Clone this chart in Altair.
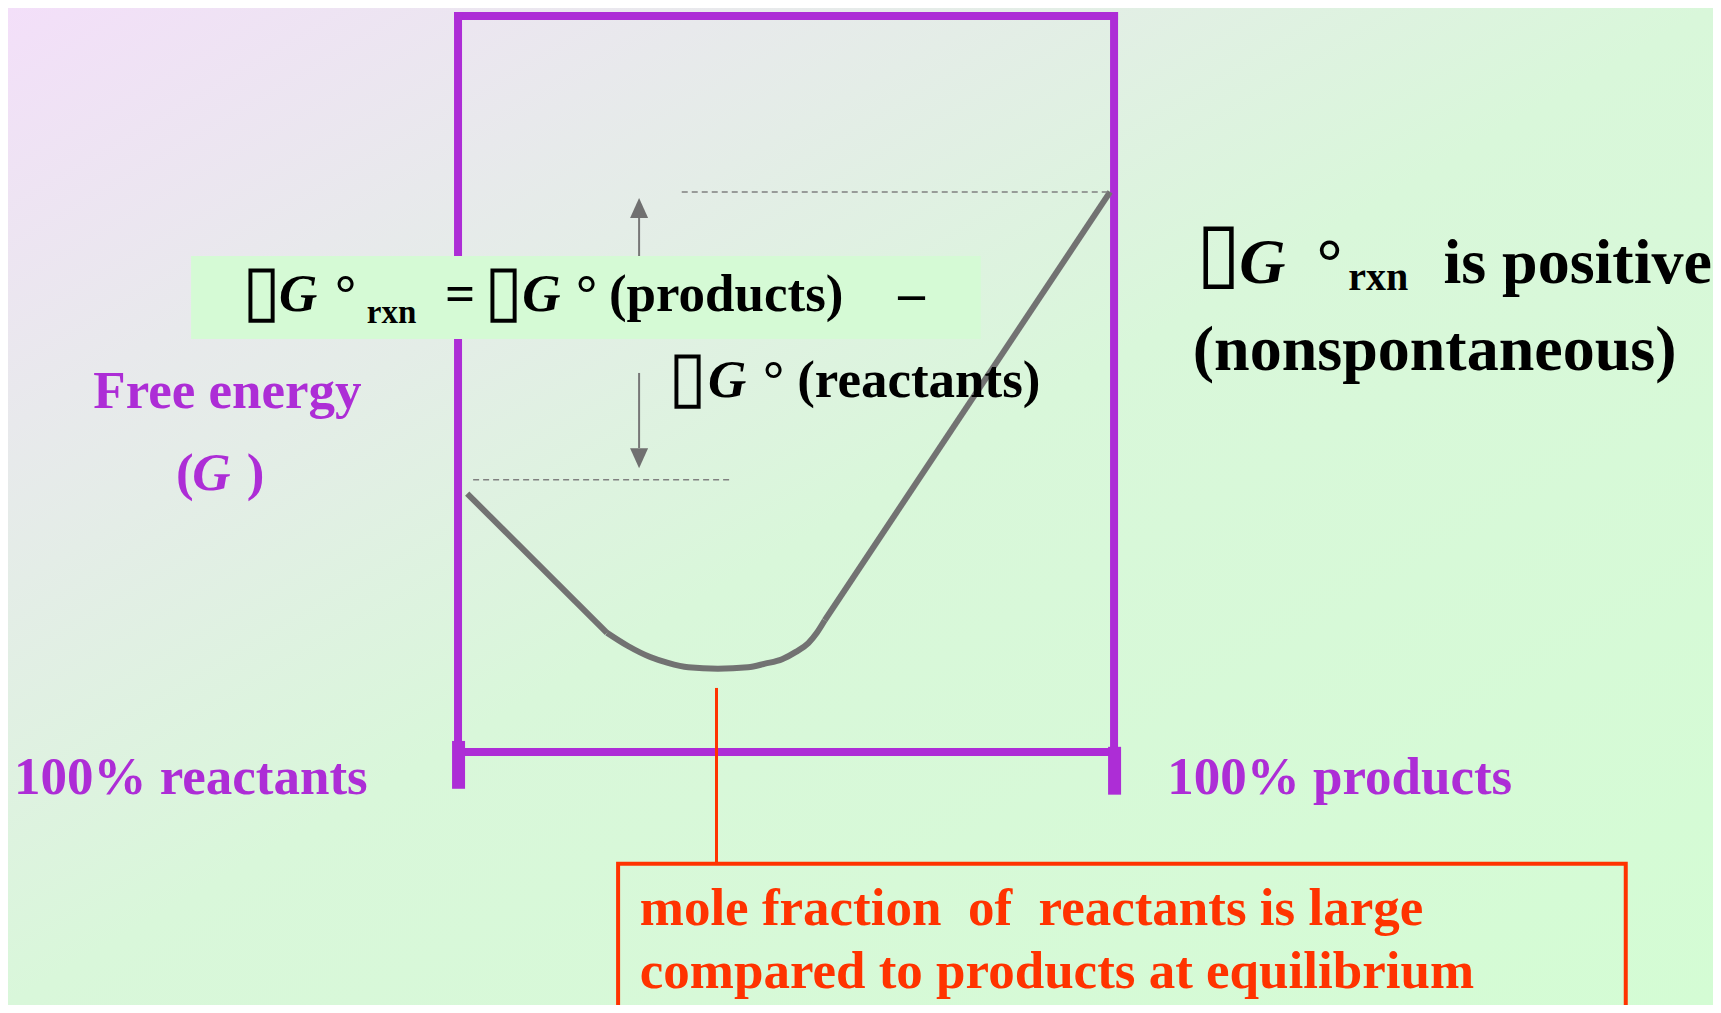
import altair as alt
import pandas as pd

# ---------------- data (x: % progress of reaction, G: free energy, 0..100 frame units)
# straight branch on the reactant side, curved well, straight branch on the product side
left_x = [1.4, 22.7]
left_g = [35.1, 16.2]
well_x = [22.7, 25.9, 29.3, 32.0, 35.1, 39.6, 44.2, 46.8, 49.4, 51.5, 53.4, 54.7, 55.9]
well_g = [16.2, 14.4, 12.9, 12.1, 11.5, 11.3, 11.5, 12.0, 12.6, 13.6, 14.8, 16.2, 17.9]
right_x = [55.9, 99.4]
right_g = [17.9, 76.1]

g_reactants_level = 37.0
g_products_level = 76.1
x_equilibrium = 39.4

# ---------------- layout
W, H = 1705, 997
X_DOMAIN = [-68.6, 191.3]
G_DOMAIN = [-34.38, 101.09]
PURPLE = "#AD2DD6"
RED = "#FF3300"
GRAY = "#727272"
FONT = "Liberation Serif"

xs = alt.Scale(domain=X_DOMAIN, nice=False, zero=False)
ys = alt.Scale(domain=G_DOMAIN, nice=False, zero=False)
X = lambda f="x": alt.X(f"{f}:Q", scale=xs, axis=None)
Y = lambda f="y": alt.Y(f"{f}:Q", scale=ys, axis=None)


def seg_df(rows):
    return pd.DataFrame(rows, columns=["x", "x2", "y", "y2"])


bg = alt.Chart(seg_df([[X_DOMAIN[0], X_DOMAIN[1], G_DOMAIN[0], G_DOMAIN[1]]])).mark_rect(
    color=alt.LinearGradient(
        gradient="linear",
        stops=[
            alt.GradientStop(color="#F3DFF9", offset=0),
            alt.GradientStop(color="#D9F7DA", offset=0.5),
            alt.GradientStop(color="#D4FCD4", offset=1),
        ],
        x1=0, y1=0, x2=1, y2=1,
    )
).encode(x=X("x"), x2="x2", y=Y("y"), y2="y2")

frame = alt.Chart(seg_df([
    [0, 100, 100, 100],
    [0, 0, 0, 100],
    [100, 100, 0, 100],
    [0, 100, 0, 0],
])).mark_rule(color=PURPLE, strokeWidth=8, strokeCap="square").encode(
    x=X("x"), x2="x2", y=Y("y"), y2="y2")

ticks = alt.Chart(seg_df([
    [0.08, 0.08, 1.5, -5.0],
    [100.08, 100.08, 0.7, -5.8],
])).mark_rule(color=PURPLE, strokeWidth=13, strokeCap="butt").encode(
    x=X("x"), x2="x2", y=Y("y"), y2="y2")

branches = alt.Chart(pd.DataFrame({
    "x": left_x + right_x, "g": left_g + right_g,
    "part": ["left"] * len(left_x) + ["right"] * len(right_x),
})).mark_line(color=GRAY, strokeWidth=6, strokeCap="butt").encode(
    x=X("x"), y=Y("g"), detail="part:N", order="x:Q")

well = alt.Chart(pd.DataFrame({"x": well_x, "g": well_g})).mark_line(
    color=GRAY, strokeWidth=6, strokeCap="butt", interpolate="monotone"
).encode(x=X("x"), y=Y("g"), order="x:Q")

dashed = alt.Chart(seg_df([
    [34.1, 99.4, g_products_level, g_products_level],
    [2.3, 41.6, g_reactants_level, g_reactants_level],
])).mark_rule(color="#808080", strokeWidth=1.5, strokeDash=[6, 4]).encode(
    x=X("x"), x2="x2", y=Y("y"), y2="y2")

shafts = alt.Chart(seg_df([
    [27.6, 27.6, 60.0, 72.6],
    [27.6, 27.6, 51.5, 41.3],
])).mark_rule(color="#777777", strokeWidth=2).encode(
    x=X("x"), x2="x2", y=Y("y"), y2="y2")

head_up = alt.Chart(pd.DataFrame({"x": [27.6], "y": [73.9]})).mark_point(
    shape="M0,-1L0.9,1L-0.9,1Z", size=400, filled=True, color="#707070", opacity=1, strokeWidth=0
).encode(x=X("x"), y=Y("y"))
head_down = alt.Chart(pd.DataFrame({"x": [27.6], "y": [39.9]})).mark_point(
    shape="M0,1L0.9,-1L-0.9,-1Z", size=400, filled=True, color="#707070", opacity=1, strokeWidth=0
).encode(x=X("x"), y=Y("y"))

green_box = alt.Chart(seg_df([[-40.7, 79.7, 56.1, 67.4]])).mark_rect(color="#D5FAD5").encode(
    x=X("x"), x2="x2", y=Y("y"), y2="y2")

red_line = alt.Chart(seg_df([[x_equilibrium, x_equilibrium, 8.7, -15.2]])).mark_rule(
    color=RED, strokeWidth=3).encode(x=X("x"), x2="x2", y=Y("y"), y2="y2")

red_box = alt.Chart(seg_df([[24.4, 178.0, -15.2, -40.5]])).mark_rect(
    fill="transparent", stroke=RED, strokeWidth=4).encode(
    x=X("x"), x2="x2", y=Y("y"), y2="y2")

BOX = "\u25AF"
box_texts = [
    (BOX, -32.9, 59.47, 71, "black"),
    (BOX, 3.96, 59.47, 71, "black"),
    (BOX, 32.0, 47.8, 71, "black"),
    (BOX, 112.5, 64.2, 82, "black"),
]
normal_texts = [
    ("°", -18.75, 59.9, 53, "black"),
    ("rxn", -13.9, 58.3, 33, "black"),
    ("=", -2.0, 59.9, 53, "black"),
    ("°", 18.0, 59.9, 53, "black"),
    ("(products)", 23.0, 59.9, 53, "black"),
    ("\u2013", 67.1, 59.9, 53, "black"),
    ("°", 46.5, 48.2, 53, "black"),
    ("(reactants)", 51.7, 48.2, 53, "black"),
    ("°", 130.9, 63.7, 64, "black"),
    ("rxn", 135.7, 62.8, 40, "black"),
    ("is positive", 150.2, 63.7, 64, "black"),
    ("(nonspontaneous)", 112.0, 51.9, 64, "black"),
    ("Free energy", -55.6, 46.7, 53, PURPLE),
    ("(", -43.0, 35.6, 53, PURPLE),
    (")", -32.2, 35.6, 53, PURPLE),
    ("100% reactants", -67.7, -5.7, 53, PURPLE),
    ("100% products", 108.1, -5.7, 53, PURPLE),
    ("mole fraction\u00a0 of\u00a0 reactants is large", 27.7, -23.5, 53, RED),
    ("compared to products at equilibrium", 27.7, -32.1, 53, RED),
]
italic_texts = [
    ("G", -27.3, 59.9, 53, "black"),
    ("G", 9.8, 59.9, 53, "black"),
    ("G", 38.1, 48.2, 53, "black"),
    ("G", 119.1, 63.7, 64, "black"),
    ("G", -40.5, 35.6, 53, PURPLE),
]
cols = ["t", "x", "y", "s", "c"]


def text_layer(rows, style, weight="bold"):
    return alt.Chart(pd.DataFrame(rows, columns=cols)).mark_text(
        font=FONT, fontWeight=weight, fontStyle=style, align="left", baseline="alphabetic"
    ).encode(
        x=X("x"), y=Y("y"), text="t:N",
        size=alt.Size("s:Q", scale=None),
        color=alt.Color("c:N", scale=None),
    )


chart = alt.layer(
    bg, frame, ticks, branches, well, dashed, shafts, head_up, head_down, green_box,
    red_line, red_box,
    text_layer(box_texts, "normal", "normal"),
    text_layer(normal_texts, "normal"),
    text_layer(italic_texts, "italic"),
).properties(width=W, height=H, padding=0, autosize="none", background="#DDF5DE").configure_view(stroke=None)

chart.save("out.html", embed_options={"renderer": "svg", "actions": False})
